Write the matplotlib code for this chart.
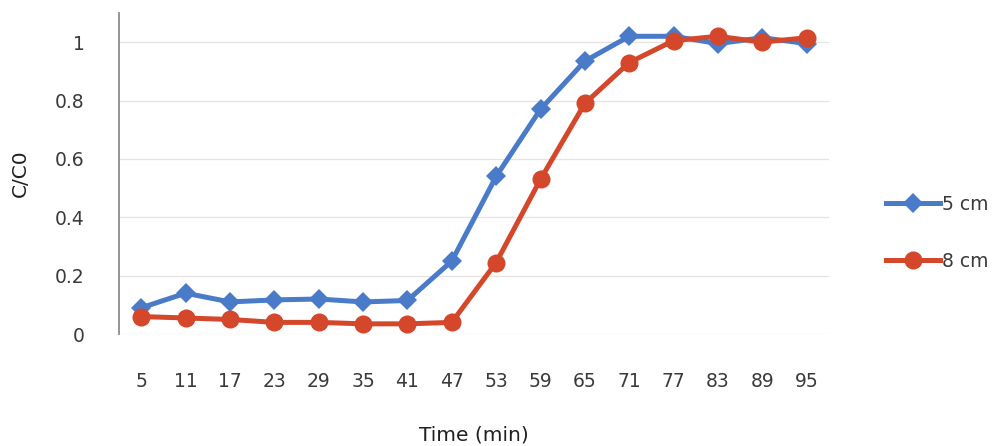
import matplotlib
matplotlib.use("Agg")
import matplotlib.pyplot as plt
from matplotlib.lines import Line2D

plt.rcParams['font.family'] = ['DejaVu Sans']

# sampling times (min) and breakthrough ratios for the two bed heights
times = ["5", "11", "17", "23", "29", "35", "41", "47",
         "53", "59", "65", "71", "77", "83", "89", "95"]
ratio_5cm = [0.09, 0.14, 0.11, 0.117, 0.12, 0.11, 0.115, 0.25,
             0.54, 0.77, 0.935, 1.02, 1.02, 0.995, 1.015, 0.995]
ratio_8cm = [0.06, 0.055, 0.05, 0.04, 0.04, 0.035, 0.035, 0.04,
             0.245, 0.53, 0.79, 0.93, 1.005, 1.02, 1.0, 1.015]
series_labels = ["5 cm", "8 cm"]
y_ticks = [0, 0.2, 0.4, 0.6, 0.8, 1.0]
y_tick_labels = ["0", "0.2", "0.4", "0.6", "0.8", "1"]

blue = "#4A7BC8"
red = "#D4472A"
text_col = "#3A3A3A"

fig = plt.figure(figsize=(10.01, 4.46), dpi=100)
ax = fig.add_axes([0.119, 0.251, 0.709, 0.72])

x = list(range(len(times)))
ax.plot(x, ratio_5cm, color=blue, lw=3.6, marker="D", ms=10.5,
        markeredgewidth=0, zorder=3)
ax.plot(x, ratio_8cm, color=red, lw=3.6, marker="o", ms=13,
        markeredgewidth=0, zorder=3)

ax.set_xlim(-0.5, len(times) - 0.5)
ax.set_ylim(0, 1.1)
ax.set_xticks(x)
ax.set_xticklabels(times)
ax.set_yticks(y_ticks)
ax.set_yticklabels(y_tick_labels)
ax.tick_params(axis="both", length=0, labelsize=13.5, colors=text_col)
ax.tick_params(axis="x", pad=27)
ax.tick_params(axis="y", pad=25)

ax.grid(axis="y", color="#E6E2E2", lw=0.9)
ax.set_axisbelow(True)
for side in ["top", "right", "bottom"]:
    ax.spines[side].set_visible(False)
ax.spines["left"].set_color("#8C8C8C")
ax.spines["left"].set_linewidth(1.3)

ax.set_xlabel("Time (min)", fontsize=14.5, color="#202020", labelpad=25)
ax.set_ylabel("C/C0", fontsize=14.5, color="#202020", labelpad=18)

handles = [
    Line2D([], [], color=blue, lw=3.6, marker="D", ms=10.5, markeredgewidth=0),
    Line2D([], [], color=red, lw=3.6, marker="o", ms=13, markeredgewidth=0),
]
fig.legend(handles, series_labels, loc="center left",
           bbox_to_anchor=(0.868, 0.478), frameon=False, fontsize=13.5,
           handlelength=2.9, handletextpad=0.1, labelspacing=2.05,
           labelcolor=text_col)

fig.savefig("out.png", dpi=100)
